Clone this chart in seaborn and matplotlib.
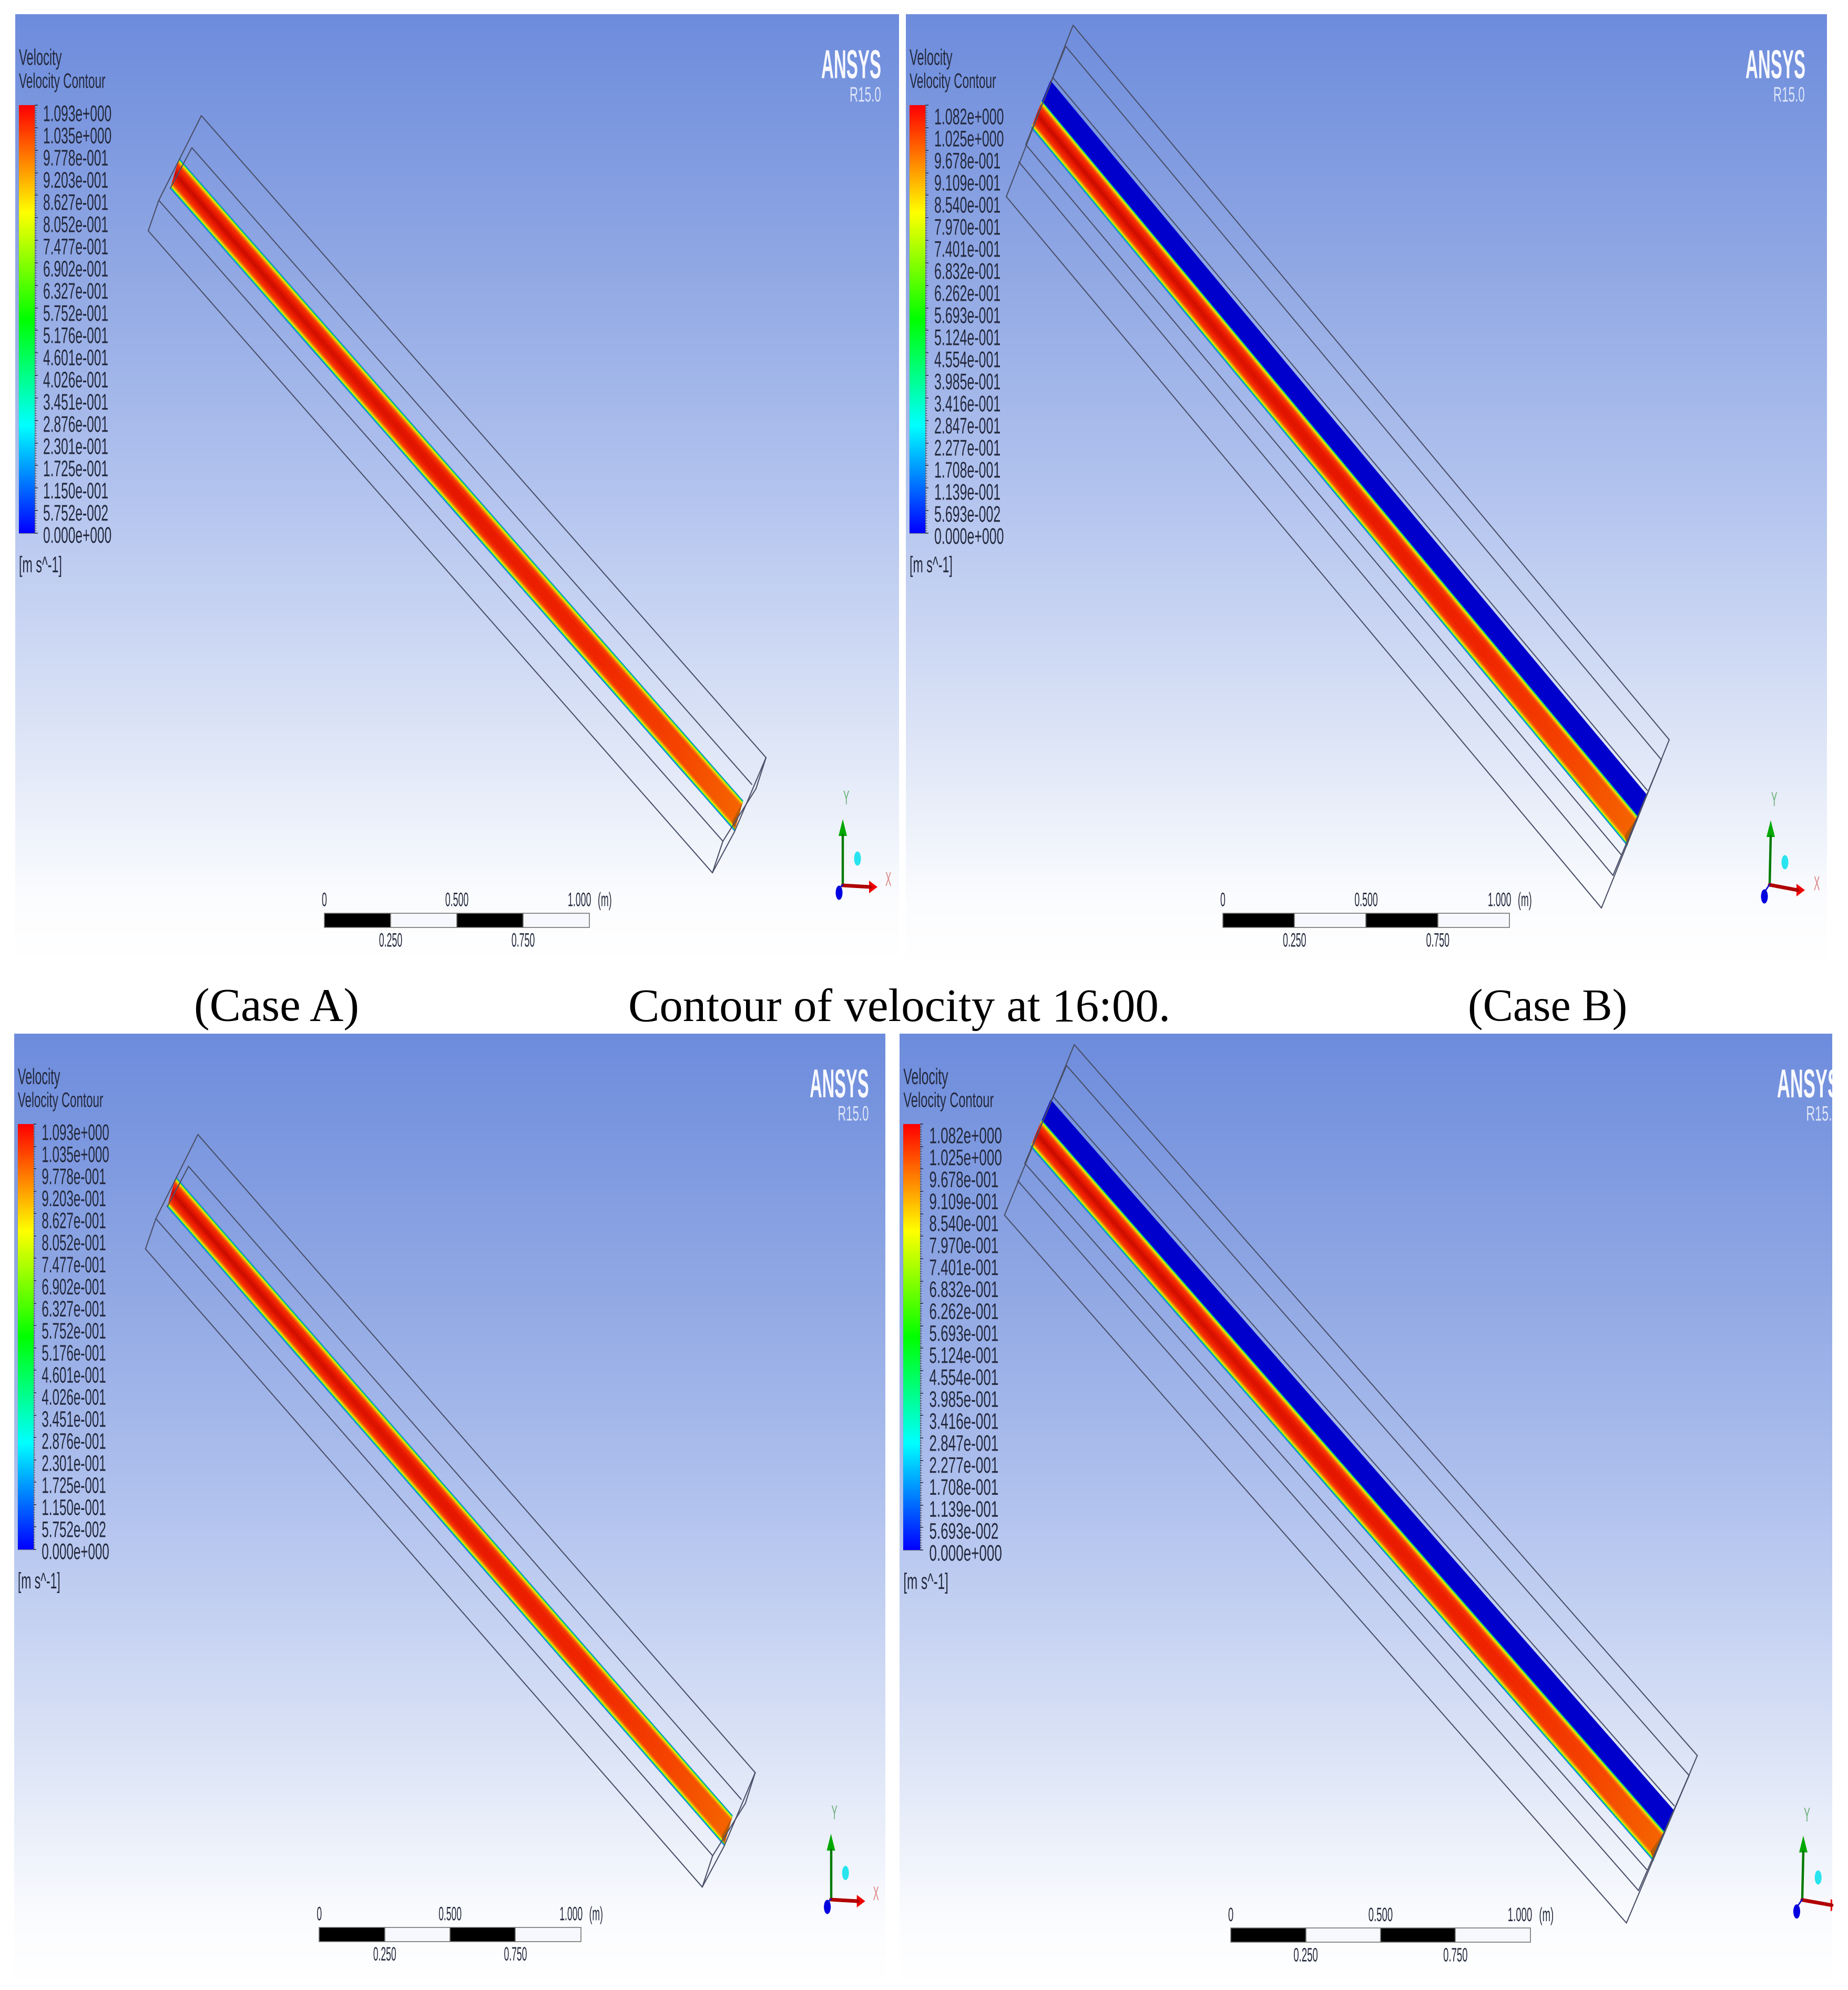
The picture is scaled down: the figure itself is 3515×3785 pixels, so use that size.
#!/usr/bin/env python3
"""
Velocity contour figure, four ANSYS panels with caption
"""

import numpy as np
import matplotlib
matplotlib.use('Agg')
import matplotlib.pyplot as plt
import matplotlib.patheffects as pe
import seaborn as sns
from matplotlib.colors import LinearSegmentedColormap
from matplotlib.patches import Ellipse, Rectangle
from matplotlib.text import Text
from matplotlib.transforms import Affine2D, Bbox

W, H = 3516, 3785

# Values
labels_ab = ['1.093e+000', '1.035e+000', '9.778e-001', '9.203e-001', '8.627e-001',
             '8.052e-001', '7.477e-001', '6.902e-001', '6.327e-001', '5.752e-001',
             '5.176e-001', '4.601e-001', '4.026e-001', '3.451e-001', '2.876e-001',
             '2.301e-001', '1.725e-001', '1.150e-001', '5.752e-002', '0.000e+000']
labels_cd = ['1.082e+000', '1.025e+000', '9.678e-001', '9.109e-001', '8.540e-001',
             '7.970e-001', '7.401e-001', '6.832e-001', '6.262e-001', '5.693e-001',
             '5.124e-001', '4.554e-001', '3.985e-001', '3.416e-001', '2.847e-001',
             '2.277e-001', '1.708e-001', '1.139e-001', '5.693e-002', '0.000e+000']
scale_top = ['0', '0.500', '1.000']
scale_bottom = ['0.250', '0.750']
captions = ['(Case A)', 'Contour of velocity at 16:00.', '(Case B)']

# speed across the channel, as a fraction of the colour scale
band_offset = [0, .015, .03, .05, .08, .13, .20, .35, .50, .65, .80, .87, .92, .95, .97, .985, 1]
band_speed = [.08, .25, .45, .62, .75, .85, .92, .97, 1, .97, .92, .85, .75, .62, .45, .25, .08]
# core strength along the channel
along_pos = [0, .25, .5, .75, .9, 1]
along_core = [1, .99, .975, .95, .91, .88]

bg_stops = [(0, '#6d8cdc'), (.25, '#8ea6e3'), (.5, '#b2c3ee'), (.75, '#dbe3f6'), (.93, '#fbfcfe'), (1, '#ffffff')]
scale_cmap = LinearSegmentedColormap.from_list('scale', ['#0000ff', '#00ffff', '#00ff00', '#ffff00', '#ff0000'])
band_cmap = LinearSegmentedColormap.from_list(
    'band', [(0, '#0000cd'), (.25, '#00c8e0'), (.45, '#10d850'), (.62, '#90e020'), (.75, '#f4e800'),
             (.85, '#f58a00'), (.92, '#f53a00'), (.97, '#ee1a00'), (1, '#c40c00')])
bg_cmap = LinearSegmentedColormap.from_list('bg', bg_stops)

LINE = '#4a4f68'
TEXT = '#23283c'


class Squeeze(pe.AbstractPathEffect):
    """Narrow the glyphs, the reference was stretched when it was pasted"""

    def __init__(self, sx):
        super().__init__()
        self.sx = sx

    def draw_path(self, renderer, gc, tpath, affine, rgbFace=None):
        renderer.draw_path(gc, tpath, Affine2D().scale(self.sx, 1) + affine, rgbFace)


class NarrowText(Text):
    """Text whose extent follows the squeezed glyphs"""

    def __init__(self, *args, narrow=1, **kw):
        super().__init__(*args, **kw)
        self.narrow = narrow
        self.set_path_effects([Squeeze(narrow)])

    def get_window_extent(self, renderer=None, dpi=None):
        bb = super().get_window_extent(renderer, dpi)
        return Bbox.from_extents(bb.x0, bb.y0, bb.x0 + bb.width * self.narrow, bb.y1)


# Layout of the two views, in pixels of the upper panels
view_ab = {
    'lines': [((383, 220), (1457, 1441)), ((365, 281), (1430, 1492)),
              ((302, 381), (1375, 1600)), ((282, 439), (1355, 1660))],
    'caps': [[(383, 220), (302, 381), (282, 439)], [(365, 281), (324, 358)],
             [(1457, 1441), (1397, 1582), (1355, 1660)],
             [(1457, 1441), (1438, 1500), (1375, 1600), (1355, 1660)]],
    'band': ((341, 302), (1413, 1523), (324, 358), (1397, 1580)),
    'blue': None,
    'end': [(1413, 1525), (1397, 1577), (1392, 1563)],
    'logo': (1562, 122), 'release': (1616, 179),
    'scalebar': (617, 1121, 1737, 1764), 'scale_y': (1711, 1788),
    'triad': dict(o=(1603, 1683), y=(1603, 1558), x=(1669, 1687), blue=(1596, 1698), cyan=(1631, 1633),
                  ylab=(1610, 1517), xlab=(1690, 1672)),
    'first_label': 216, 'last_label': 1018, 'label_x': 53, 'label_sq': .57,
}
view_cd = {
    'lines': [((2041, 48), (3175, 1407)), ((2027, 88), (3160, 1445)), ((2003, 148), (3133, 1503)),
              ((1951, 275), (3083, 1625)), ((1938, 308), (3068, 1665)), ((1914, 374), (3046, 1727))],
    'caps': [[(2041, 48), (1914, 374)], [(2027, 88), (1951, 275)],
             [(3175, 1407), (3046, 1727)], [(3160, 1445), (3068, 1665)]],
    'band': ((1982, 192), (3115, 1552), (1962, 243), (3095, 1608)),
    'blue': [(1998, 153), (3132, 1511), (3115, 1552), (1982, 192)],
    'end': [(3115, 1552), (3095, 1606), (3090, 1590)],
    'logo': (3320, 122), 'release': (3373, 179),
    'scalebar': (2326, 2871, 1737, 1764), 'scale_y': (1711, 1788),
    'triad': dict(o=(3366, 1682), y=(3368, 1560), x=(3433, 1693), blue=(3356, 1705), cyan=(3395, 1640),
                  ylab=(3375, 1520), xlab=(3456, 1680)),
    'first_label': 222, 'last_label': 1020, 'label_x': 54, 'label_sq': .58,
}

panels = [
    dict(rect=(29, 27, 1710, 1840), ref=(29, 27), scale=(1, 1), view=view_ab, labels=labels_ab),
    dict(rect=(1723, 27, 3475, 1845), ref=(1723, 27), scale=(1, 1), view=view_cd, labels=labels_cd),
    dict(rect=(27, 1966, 1684, 3785), ref=(29, 27), scale=(.987, .994), view=view_ab, labels=labels_ab),
    dict(rect=(1711, 1966, 3485, 3785), ref=(1723, 27), scale=(1.045, .995), view=view_cd, labels=labels_cd),
]


def pixel_axes(fig, x0, y0, x1, y1):
    """Axes placed by pixel corners of the figure"""
    return fig.add_axes([x0 / W, 1 - y1 / H, (x1 - x0) / W, (y1 - y0) / H])


def ramp(fig, x0, y0, x1, y1, cmap, values):
    """Vertical colour ramp drawn as a one column heatmap"""
    ax = pixel_axes(fig, x0, y0, x1, y1)
    sns.heatmap(values.reshape(-1, 1), ax=ax, cmap=cmap, vmin=0, vmax=1, cbar=False,
                xticklabels=False, yticklabels=False, rasterized=True)
    return ax


def draw_panel(fig, ax, p):
    x0, y0, x1, y1 = p['rect']
    rx, ry = p['ref']
    sx, sy = p['scale']
    v = p['view']

    def px(pt):
        return x0 + (pt[0] - rx) * sx, y0 + (pt[1] - ry) * sy

    def seg(pts, **kw):
        xy = np.array([px(q) for q in pts])
        ax.plot(xy[:, 0], xy[:, 1], **kw)

    clip = Rectangle((x0, y0), x1 - x0, y1 - y0, transform=ax.transData, fill=False, lw=0)

    def label(xy, s, em, squeeze, color=TEXT, family='Liberation Sans', weight='normal'):
        xp, yp = px(xy)
        t = NarrowText(xp, yp + em * .08 * sy, s, narrow=squeeze * sx / sy, fontsize=em * .72 * sy,
                       family=family, weight=weight, color=color, ha='left', va='center',
                       transform=ax.transData)
        ax.add_artist(t)
        t.set_clip_path(clip)

    # box outline behind the contour
    for a, b in v['lines']:
        seg([a, b], color=LINE, lw=1.5, solid_capstyle='round')
    for c in v['caps']:
        seg(c, color=LINE, lw=1.5)

    # contour band
    u0, u1, l0, l1 = [np.array(px(q)) for q in v['band']]
    s = np.array(along_pos)[:, None]
    t = np.array(band_offset)[None, :]
    up = u0[None, :] + s * (u1 - u0)[None, :]
    lo = l0[None, :] + s * (l1 - l0)[None, :]
    X = up[:, 0, None] * (1 - t) + lo[:, 0, None] * t
    Y = up[:, 1, None] * (1 - t) + lo[:, 1, None] * t
    V = np.minimum(np.array(band_speed)[None, :], np.array(along_core)[:, None])
    ax.pcolormesh(X, Y, V, shading='gouraud', cmap=band_cmap, vmin=0, vmax=1)
    ax.fill(*zip(*[px(q) for q in v['end']]), color='#b85a00', lw=0)
    if v['blue']:
        ax.fill(*zip(*[px(q) for q in v['blue']]), color='#0000cd', lw=0)

    # legend
    label((rx + 7, 109), 'Velocity', 43, .55)
    label((rx + 7, 153), 'Velocity Contour', 40, .565)
    label((rx + 7, 1074), '[m s^-1]', 43, .54)
    bx0, bx1 = px((rx + 7, 0))[0], px((rx + 37, 0))[0]
    by0, by1 = px((0, 200))[1], px((0, 1014))[1]
    ramp(fig, bx0, by0, bx1, by1, scale_cmap, np.linspace(1, 0, 256))
    ax.add_patch(Rectangle((bx0, by0), bx1 - bx0, by1 - by0, fill=False, ec='#707488', lw=1))
    ax.hlines(np.linspace(by0, by1, 172), bx1, bx1 + 3 * sx, color='#30344a', lw=.7)
    ax.hlines(np.linspace(by0, by1, 20), bx1, bx1 + 6 * sx, color='#30344a', lw=1.2)
    ly = np.linspace(v['first_label'], v['last_label'], len(p['labels']))
    for name, yy in zip(p['labels'], ly):
        label((rx + v['label_x'], yy), name, 43, v['label_sq'])

    # logo
    label(v['logo'], 'ANSYS', 77, .43, color='#f8f9fe', weight='bold')
    label(v['release'], 'R15.0', 40, .56, color='#dfe6f8')

    # scale bar
    a, b, top, bot = v['scalebar']
    (xa, ya), (xb, yb) = px((a, top)), px((b, bot))
    step = (xb - xa) / 4
    for i in range(4):
        ax.add_patch(Rectangle((xa + i * step, ya), step, yb - ya, fc='black' if i % 2 == 0 else '#f7f8fd',
                               ec='#777777', lw=1.2))
    w = b - a
    yt, yu = v['scale_y']
    cw = .48 * 2.5 * 37 / 2
    label((a - 5, yt), scale_top[0], 37, .48)
    label((a + w / 2 - cw, yt), scale_top[1], 37, .48)
    label((b - 41, yt), scale_top[2], 37, .48)
    label((b + 16, yt), '(m)', 37, .48)
    label((a + w / 4 - cw, yu), scale_bottom[0], 37, .48)
    label((a + w * 3 / 4 - cw, yu), scale_bottom[1], 37, .48)

    # axis triad
    tr = v['triad']
    ox, oy = px(tr['o'])
    tx, ty = px(tr['x'])
    yx, yy = px(tr['y'])
    ax.plot([ox, yx], [oy, yy + 30], color='#007a00', lw=3.2)
    ax.fill([yx, yx - 8, yx + 8], [yy, yy + 32, yy + 32], color='#00a800', lw=0)
    ax.plot([ox, tx - 14], [oy + 1, ty], color='#b00000', lw=5, clip_path=clip)
    head = ax.fill([tx, tx - 16, tx - 16], [ty, ty - 12, ty + 12], color='#ee0000', lw=0)
    head[0].set_clip_path(clip)
    bx, by = px(tr['blue'])
    ax.add_patch(Ellipse((bx, by), 13, 27, color='#0000e0', lw=0))
    ax.plot([ox, bx], [oy, by - 8], color='#1010c8', lw=2)
    cx, cy = px(tr['cyan'])
    ax.add_patch(Ellipse((cx, cy), 13, 27, color='#28e4ee', lw=0))
    label((tr['ylab'][0] - 6, tr['ylab'][1]), 'Y', 38, .45, color='#68ad74')
    label((tr['xlab'][0] - 6, tr['xlab'][1]), 'X', 38, .45, color='#dc8484')


def main():
    sns.set_theme(style='white')
    plt.rcParams['font.family'] = ['Liberation Sans', 'DejaVu Sans']

    fig = plt.figure(figsize=(W / 100, H / 100), dpi=100, facecolor='white')

    # backgrounds first so that everything else sits on top
    for p in panels:
        x0, y0, x1, y1 = p['rect']
        ramp(fig, x0, y0, x1, y1, bg_cmap, np.linspace(0, 1, 512))

    ax = pixel_axes(fig, 0, 0, W, H)
    ax.set_xlim(0, W)
    ax.set_ylim(H, 0)
    ax.axis('off')

    for p in panels:
        draw_panel(fig, ax, p)

    for xc, s, em in zip([369, 1195, 2792], captions, [89, 89, 86]):
        ax.text(xc, 1920, s, fontsize=em * .72, family='Liberation Serif', color='black',
                ha='left', va='center')

    fig.savefig('out.png', dpi=100)
    plt.close(fig)


if __name__ == '__main__':
    main()
